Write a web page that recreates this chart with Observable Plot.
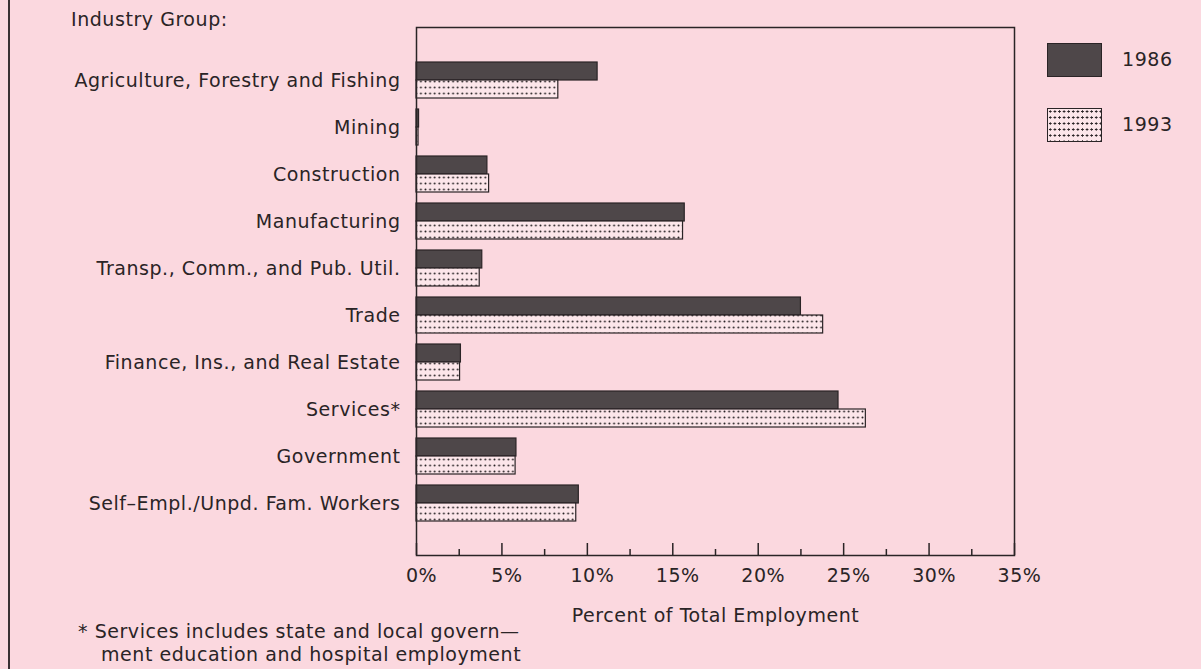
<!DOCTYPE html>
<html>
<head>
<meta charset="utf-8">
<script src="https://cdn.jsdelivr.net/npm/d3@7"></script>
<script src="https://cdn.jsdelivr.net/npm/@observablehq/plot@0.6"></script>
<style>
  html, body { margin: 0; padding: 0; background: #fbd8df; }
  #wrap { position: relative; width: 1201px; height: 669px; overflow: hidden; background: #fbd8df;
          font-family: "DejaVu Sans", sans-serif; color: #2a2426; }
  #wrap svg.plot { position: absolute; left: 0; top: 0; }
  #wrap svg.plot text { letter-spacing: 0.55px; }
  .t { position: absolute; font-size: 19px; letter-spacing: 0.55px; white-space: nowrap; line-height: 1; }
  .border { position: absolute; left: 8px; top: 0; width: 2px; height: 669px; background: #3a3033; }
  .sw { position: absolute; left: 1047px; width: 55px; height: 34px; box-sizing: border-box; border: 1.5px solid #2a2426; }
</style>
</head>
<body>
<div id="wrap">
  <div class="border"></div>
</div>
<script>
const industries = [
  "Agriculture, Forestry and Fishing",
  "Mining",
  "Construction",
  "Manufacturing",
  "Transp., Comm., and Pub. Util.",
  "Trade",
  "Finance, Ins., and Real Estate",
  "Services*",
  "Government",
  "Self\u2013Empl./Unpd. Fam. Workers"
];
const values1986 = [10.6, 0.15, 4.15, 15.7, 3.85, 22.5, 2.6, 24.7, 5.85, 9.5];
const values1993 = [8.3, 0.12, 4.25, 15.6, 3.7, 23.8, 2.55, 26.3, 5.8, 9.35];
const years = ["1986", "1993"];
const majorTicks = [0, 5, 10, 15, 20, 25, 30, 35];
const minorTicks = [2.5, 7.5, 12.5, 17.5, 22.5, 27.5, 32.5];
const axisTitle = "Percent of Total Employment";
const groupTitle = "Industry Group:";
const footnote = ["* Services includes state and local govern\u2014", "ment education and hospital employment"];

const data86 = industries.map((k, i) => ({industry: k, value: values1986[i]}));
const data93 = industries.map((k, i) => ({industry: k, value: values1993[i]}));

const ink = "#2a2426";
const dark = "#4e4749";

const W = 1201, H = 669;
const mTop = 27, mBottom = 114, mLeft = 416, mRight = 187;
const frameH = H - mTop - mBottom;

const svg = Plot.plot({
  width: W,
  height: H,
  marginTop: mTop,
  marginBottom: mBottom,
  marginLeft: mLeft,
  marginRight: mRight,
  style: {background: "transparent", fontFamily: "DejaVu Sans, sans-serif", fontSize: "19px", color: ink},
  x: {domain: [0, 35]},
  y: {domain: industries, paddingInner: 0.24, paddingOuter: 0.7},
  marks: [
    Plot.barX(data86, {x: "value", y: "industry", fill: dark, stroke: ink, strokeWidth: 1.2, insetBottom: 18}),
    Plot.barX(data93, {x: "value", y: "industry", fill: "url(#dots)", stroke: ink, strokeWidth: 1.2, insetTop: 18}),
    Plot.ruleX(majorTicks, {x: d => d, stroke: ink, strokeWidth: 1.5, insetTop: frameH - 12}),
    Plot.ruleX(minorTicks, {x: d => d, stroke: ink, strokeWidth: 1.5, insetTop: frameH - 6}),
    Plot.frame({stroke: ink, strokeWidth: 1.5}),
    Plot.axisX(majorTicks, {tickSize: 0, tickPadding: 13, tickFormat: d => d + "%", dx: 5, fontSize: 19,
      label: axisTitle, labelAnchor: "center", labelOffset: 66, labelArrow: "none"}),
    Plot.axisY({tickSize: 0, tickPadding: 16, fontSize: 19, label: null})
  ]
});
svg.classList.add("plot");
svg.insertAdjacentHTML("afterbegin",
  `<defs><pattern id="dots" width="4.6" height="6" patternUnits="userSpaceOnUse" x="0" y="1">
     <rect width="4.6" height="6" fill="#fce6ea"></rect>
     <circle cx="2.3" cy="2.5" r="0.95" fill="#2a2426"></circle>
   </pattern></defs>`);
const wrap = document.getElementById("wrap");
wrap.appendChild(svg);

function addText(txt, left, top) {
  const d = document.createElement("div");
  d.className = "t";
  d.textContent = txt;
  d.style.left = left + "px";
  d.style.top = top + "px";
  wrap.appendChild(d);
}
addText(groupTitle, 71, 10);
addText(footnote[0], 78, 622);
addText(footnote[1], 101, 645);
// legend
const swatches = [{top: 43, fill: dark}, {top: 108, fill: "dots"}];
years.forEach((y, i) => {
  const s = document.createElement("div");
  s.className = "sw";
  s.style.top = swatches[i].top + "px";
  if (swatches[i].fill === "dots") {
    s.style.background = "#fce6ea radial-gradient(circle at 2.3px 2.5px, #2a2426 0.95px, transparent 1.2px)";
    s.style.backgroundSize = "4.6px 6px";
  } else {
    s.style.background = swatches[i].fill;
  }
  wrap.appendChild(s);
  addText(y, 1122, swatches[i].top + 7);
});
</script>
</body>
</html>
